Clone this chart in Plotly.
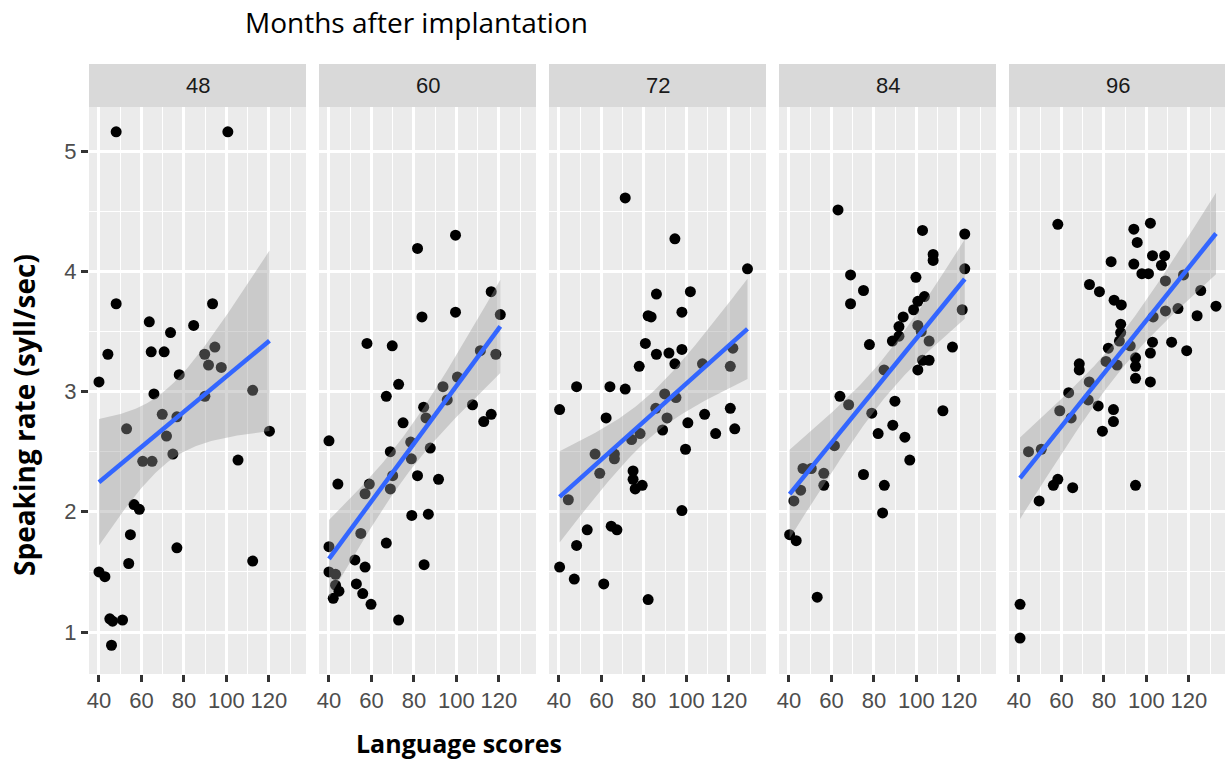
import math
import numpy as np
import plotly.graph_objects as go

# ---------------- data ----------------
months = ["48", "60", "72", "84", "96"]

x48 = [48.1, 100.7, 48.1, 93.5, 63.7, 73.7, 84.6, 44.2, 64.6, 70.7, 89.8, 94.6, 91.6, 97.6, 40.0,
       77.8, 65.9, 89.9, 112.4, 69.8, 76.7, 53.0, 71.8, 120.3, 60.6, 65.0, 74.8, 105.5, 56.5, 59.0,
       54.8, 76.7, 54.0, 112.4, 40.0, 42.8, 45.1, 46.4, 51.1, 45.9]
y48 = [5.16, 5.16, 3.73, 3.73, 3.58, 3.49, 3.55, 3.31, 3.33, 3.33, 3.31, 3.37, 3.22, 3.20, 3.08,
       3.14, 2.98, 2.96, 3.01, 2.81, 2.79, 2.69, 2.63, 2.67, 2.42, 2.42, 2.48, 2.43, 2.06, 2.02,
       1.81, 1.70, 1.57, 1.59, 1.50, 1.46, 1.11, 1.09, 1.10, 0.89]

x60 = [99.6, 81.7, 116.4, 120.7, 83.8, 99.6, 57.9, 69.8, 111.3, 118.6, 100.5, 72.8, 93.7, 67.0,
       95.7, 84.6, 107.6, 116.4, 112.9, 85.7, 74.9, 40.0, 78.5, 68.9, 87.7, 78.8, 70.0, 81.7, 91.6,
       68.9, 44.2, 59.0, 57.0, 79.0, 86.8, 55.0, 67.0, 40.0, 52.2, 84.8, 57.0, 40.0, 43.1, 43.1,
       44.7, 42.0, 52.9, 55.9, 59.8, 72.8]
y60 = [4.30, 4.19, 3.83, 3.64, 3.62, 3.66, 3.40, 3.38, 3.34, 3.31, 3.12, 3.06, 3.04, 2.96,
       2.93, 2.87, 2.89, 2.81, 2.75, 2.78, 2.74, 2.59, 2.58, 2.50, 2.53, 2.44, 2.30, 2.30, 2.27,
       2.19, 2.23, 2.23, 2.15, 1.97, 1.98, 1.82, 1.74, 1.71, 1.60, 1.56, 1.54, 1.50, 1.48, 1.39,
       1.34, 1.28, 1.40, 1.32, 1.23, 1.10]

x72 = [71.2, 94.6, 128.8, 85.9, 101.9, 82.0, 83.4, 97.9, 80.7, 85.9, 91.8, 97.9, 94.6, 77.8,
       107.6, 121.9, 120.7, 48.3, 64.0, 71.2, 40.3, 89.8, 95.1, 85.6, 90.9, 62.2, 88.8, 100.7,
       108.6, 120.7, 122.8, 113.8, 78.2, 74.2, 99.6, 57.0, 66.1, 66.1, 59.2, 74.9, 74.9, 79.2,
       75.9, 44.4, 97.9, 53.3, 64.6, 67.3, 48.3, 40.3, 47.2, 61.1, 82.0]
y72 = [4.61, 4.27, 4.02, 3.81, 3.83, 3.63, 3.62, 3.66, 3.40, 3.31, 3.32, 3.35, 3.23, 3.21,
       3.23, 3.36, 3.21, 3.04, 3.04, 3.02, 2.85, 2.98, 2.95, 2.86, 2.78, 2.78, 2.68, 2.74,
       2.81, 2.86, 2.69, 2.65, 2.65, 2.60, 2.52, 2.48, 2.48, 2.44, 2.32, 2.34, 2.27, 2.22,
       2.19, 2.10, 2.01, 1.85, 1.88, 1.85, 1.72, 1.54, 1.44, 1.40, 1.27]

x84 = [63.1, 102.9, 122.8, 107.9, 107.9, 122.8, 69.0, 99.8, 75.1, 69.0, 103.8, 100.7, 98.7,
       121.6, 93.8, 91.8, 91.8, 88.7, 100.7, 102.3, 106.0, 77.9, 117.0, 102.9, 106.0, 100.7,
       84.8, 64.0, 68.1, 89.9, 79.0, 112.5, 88.9, 82.0, 94.6, 61.4, 96.9, 46.6, 50.5, 56.4,
       56.4, 75.1, 84.9, 45.5, 42.3, 84.1, 40.3, 43.4, 53.3]
y84 = [4.51, 4.34, 4.31, 4.14, 4.09, 4.02, 3.97, 3.95, 3.84, 3.73, 3.79, 3.75, 3.68,
       3.68, 3.62, 3.54, 3.46, 3.42, 3.55, 3.50, 3.42, 3.39, 3.37, 3.26, 3.26, 3.18,
       3.18, 2.96, 2.89, 2.92, 2.82, 2.84, 2.72, 2.65, 2.62, 2.55, 2.43, 2.36, 2.36, 2.32,
       2.22, 2.31, 2.22, 2.18, 2.09, 1.99, 1.81, 1.76, 1.29]

x96 = [58.3, 101.9, 94.1, 95.7, 102.9, 108.6, 107.1, 83.4, 94.1, 97.9, 101.0, 117.5, 109.0,
       73.2, 77.9, 84.8, 88.2, 125.6, 132.8, 123.9, 114.9, 109.0, 103.2, 87.9, 87.9, 87.3,
       82.1, 92.4, 102.9, 111.9, 119.0, 101.9, 81.0, 86.2, 94.9, 94.9, 94.9, 101.9, 68.4,
       68.4, 73.1, 63.4, 72.6, 77.3, 84.5, 84.5, 59.2, 64.6, 79.3, 44.5, 50.5, 58.3, 56.2,
       65.3, 94.9, 49.5, 40.5, 40.5]
y96 = [4.39, 4.40, 4.35, 4.24, 4.13, 4.13, 4.05, 4.08, 4.06, 3.98, 3.98, 3.97, 3.92,
       3.89, 3.83, 3.76, 3.72, 3.84, 3.71, 3.63, 3.69, 3.67, 3.62, 3.56, 3.49, 3.42,
       3.36, 3.38, 3.41, 3.41, 3.34, 3.32, 3.25, 3.22, 3.28, 3.21, 3.11, 3.08, 3.23,
       3.18, 3.08, 2.99, 2.93, 2.88, 2.85, 2.75, 2.84, 2.78, 2.67, 2.50, 2.52, 2.27, 2.22,
       2.20, 2.22, 2.09, 1.23, 0.95]

xs_all = [x48, x60, x72, x84, x96]
ys_all = [y48, y60, y72, y84, y96]

x_ticks = [40, 60, 80, 100, 120]
x_minor = [50, 70, 90, 110, 130]
y_ticks = [1, 2, 3, 4, 5]
y_minor = [1.5, 2.5, 3.5, 4.5]

# ---------------- helpers ----------------
def t_quantile(p, df):
    # Cornish-Fisher expansion of the Student t quantile around the normal quantile
    z = 0.0
    for _ in range(60):
        f = 0.5 * (1 + math.erf(z / math.sqrt(2))) - p
        z -= f / (math.exp(-z * z / 2) / math.sqrt(2 * math.pi))
    g1 = (z ** 3 + z) / 4
    g2 = (5 * z ** 5 + 16 * z ** 3 + 3 * z) / 96
    g3 = (3 * z ** 7 + 19 * z ** 5 + 17 * z ** 3 - 15 * z) / 384
    return z + g1 / df + g2 / df ** 2 + g3 / df ** 3


def lm_band(x, y, n_out=80):
    x = np.asarray(x, float)
    y = np.asarray(y, float)
    n = len(x)
    xbar = x.mean()
    sxx = ((x - xbar) ** 2).sum()
    b1 = ((x - xbar) * (y - y.mean())).sum() / sxx
    b0 = y.mean() - b1 * xbar
    resid = y - (b0 + b1 * x)
    s = math.sqrt((resid ** 2).sum() / (n - 2))
    xg = np.linspace(x.min(), x.max(), n_out)
    fit = b0 + b1 * xg
    se = s * np.sqrt(1.0 / n + (xg - xbar) ** 2 / sxx)
    t = t_quantile(0.975, n - 2)
    return xg, fit, fit - t * se, fit + t * se


# ---------------- geometry ----------------
W, H = 1225, 762
panel_left = [89, 319, 549, 779, 1009]
panel_w = 217
top_px, bot_px = 107, 674
strip_top_px = 64
x_lo = 35.3
px_per_x = 2.123
y_range = [0.651, 5.366]

TICK_FONT = dict(family="Liberation Sans, Arial, sans-serif", size=22, color="#4d4d4d")

fig = go.Figure()
layout = {}

for i in range(5):
    ax = "" if i == 0 else str(i + 1)
    xref, yref = "x" + ax, "y" + ax
    # points
    fig.add_trace(go.Scatter(
        x=xs_all[i], y=ys_all[i], mode="markers",
        marker=dict(color="black", size=11, line=dict(width=0)),
        xaxis=xref, yaxis=yref, showlegend=False, hoverinfo="skip"))
    xg, fit, lo, hi = lm_band(xs_all[i], ys_all[i])
    fig.add_trace(go.Scatter(
        x=np.concatenate([xg, xg[::-1]]), y=np.concatenate([hi, lo[::-1]]),
        mode="lines", fill="toself", fillcolor="rgba(153,153,153,0.4)",
        line=dict(width=0), xaxis=xref, yaxis=yref, showlegend=False, hoverinfo="skip"))
    fig.add_trace(go.Scatter(
        x=xg, y=fit, mode="lines", line=dict(color="#3366FF", width=4.5),
        xaxis=xref, yaxis=yref, showlegend=False, hoverinfo="skip"))

    left = panel_left[i]
    right = min(left + panel_w, W)
    x_hi = x_lo + (right - left) / px_per_x
    dom_x = [left / W, right / W]
    dom_y = [1 - bot_px / H, 1 - top_px / H]
    layout["xaxis" + ax] = dict(
        domain=dom_x, range=[x_lo, x_hi], anchor=yref,
        tickmode="array", tickvals=x_ticks, ticktext=[str(v) for v in x_ticks],
        ticks="outside", ticklen=7, tickwidth=2.5, tickcolor="#333333",
        tickfont=TICK_FONT,
        showgrid=True, gridcolor="white", gridwidth=2.6, zeroline=False,
        showline=False, automargin=False,
        minor=dict(tickmode="array", tickvals=x_minor, showgrid=True,
                   gridcolor="white", gridwidth=1.3, ticks=""),
    )
    layout["yaxis" + ax] = dict(
        domain=dom_y, range=y_range, anchor=xref,
        tickmode="array", tickvals=y_ticks, ticktext=[str(v) for v in y_ticks],
        ticks="outside" if i == 0 else "", ticklen=7, tickwidth=2.5, tickcolor="#333333",
        showticklabels=(i == 0),
        tickfont=TICK_FONT,
        showgrid=True, gridcolor="white", gridwidth=2.6, zeroline=False,
        showline=False, automargin=False,
        minor=dict(tickmode="array", tickvals=y_minor, showgrid=True,
                   gridcolor="white", gridwidth=1.3, ticks=""),
    )

shapes = []
annotations = []
for i in range(5):
    left = panel_left[i]
    right = min(left + panel_w, W)
    shapes.append(dict(type="rect", xref="paper", yref="paper",
                       x0=left / W, x1=right / W,
                       y0=1 - top_px / H, y1=1 - strip_top_px / H,
                       fillcolor="#d9d9d9", line=dict(width=0), layer="below"))
    annotations.append(dict(text=months[i], xref="paper", yref="paper",
                            x=(left + panel_w / 2) / W, y=1 - (top_px + strip_top_px) / 2 / H,
                            xanchor="center", yanchor="middle", showarrow=False,
                            font=dict(family="Liberation Sans, Arial, sans-serif", size=22,
                                      color="#1a1a1a")))

annotations.append(dict(text="Months after implantation", xref="paper", yref="paper",
                        x=416 / W, y=1 - 22 / H, xanchor="center", yanchor="middle",
                        showarrow=False,
                        font=dict(family="Open Sans, sans-serif", size=28, color="black")))
annotations.append(dict(text="<b>Language scores</b>", xref="paper", yref="paper",
                        x=459 / W, y=1 - 743 / H, xanchor="center", yanchor="middle",
                        showarrow=False,
                        font=dict(family="Open Sans, sans-serif", size=25, color="black")))
annotations.append(dict(text="<b>Speaking rate (syll/sec)</b>", xref="paper", yref="paper",
                        x=24 / W, y=1 - 415 / H, xanchor="center", yanchor="middle",
                        textangle=-90, showarrow=False,
                        font=dict(family="Open Sans, sans-serif", size=28, color="black")))

fig.update_layout(
    width=W, height=H,
    margin=dict(l=0, r=0, t=0, b=0),
    paper_bgcolor="white", plot_bgcolor="#ebebeb",
    shapes=shapes, annotations=annotations,
    showlegend=False,
    **layout,
)

fig.write_html("out.html")
